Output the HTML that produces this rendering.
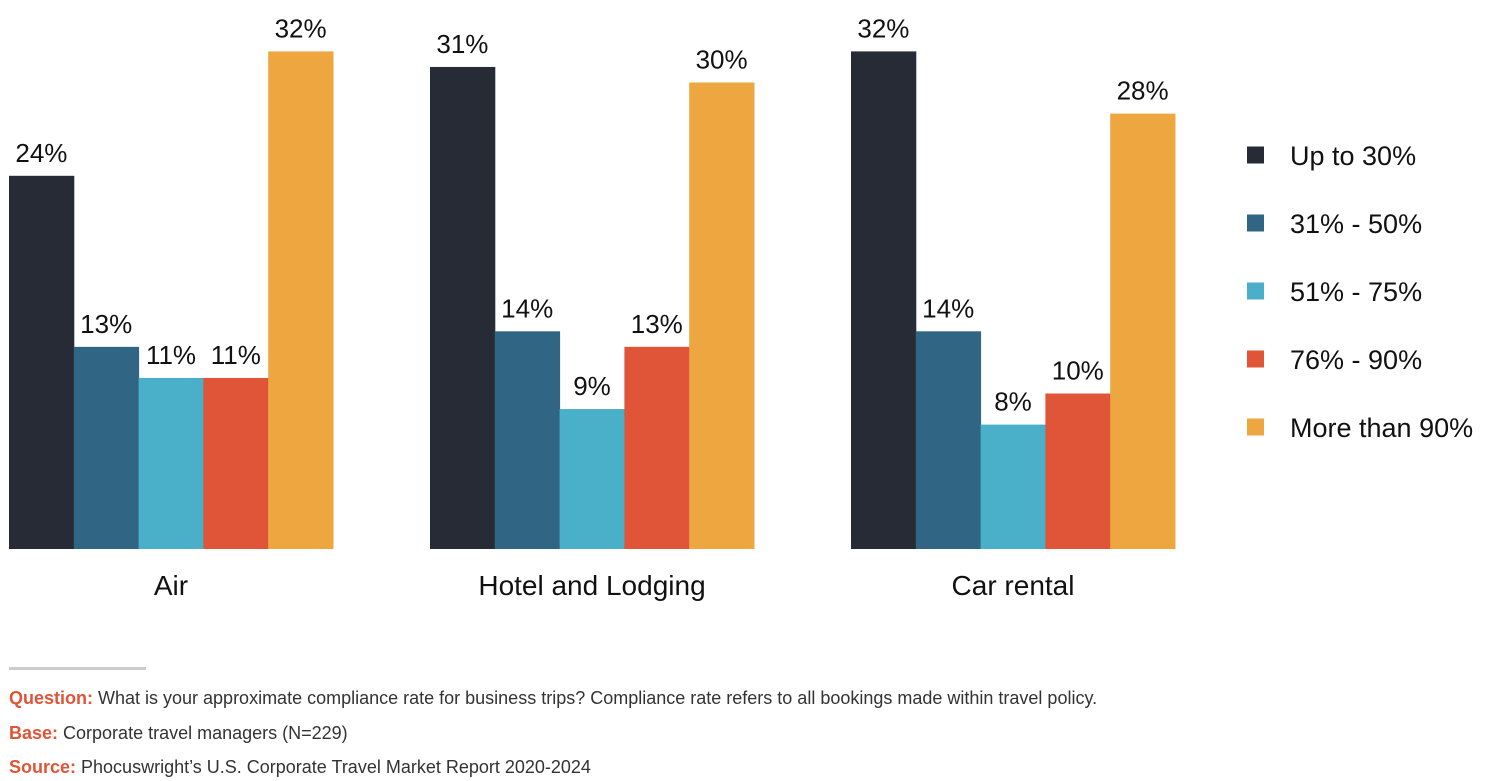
<!DOCTYPE html>
<html><head><meta charset="utf-8"><style>
body{margin:0;width:1500px;height:781px;background:#fff;font-family:"Liberation Sans",sans-serif;overflow:hidden;position:relative}
.foot{position:absolute;left:9px;font-size:18px;color:#333}
.foot b{color:#e05438}
</style></head><body>
<svg id="chart" width="1500" height="650" style="position:absolute;left:0;top:0"></svg>
<div style="position:absolute;left:9px;top:667px;width:137px;height:3px;background:#ccc"></div>
<div class="foot" style="top:688px"><b>Question:</b> What is your approximate compliance rate for business trips? Compliance rate refers to all bookings made within travel policy.</div>
<div class="foot" style="top:723px"><b>Base:</b> Corporate travel managers (N=229)</div>
<div class="foot" style="top:757px"><b>Source:</b> Phocuswright’s U.S. Corporate Travel Market Report 2020-2024</div>
<script>
const categories=["Air","Hotel and Lodging","Car rental"];
const seriesNames=["Up to 30%","31% - 50%","51% - 75%","76% - 90%","More than 90%"];
const upTo30=[24,31,32];
const s31to50=[13,14,14];
const s51to75=[11,9,8];
const s76to90=[11,13,10];
const over90=[32,30,28];
const series=[upTo30,s31to50,s51to75,s76to90,over90];
const colors=["#272b36","#306684","#4aafc9","#e05438","#eea740"];
const svg=document.getElementById('chart');
const NS="http://www.w3.org/2000/svg";
const baseY=549,pxPer=15.55,groupX0=9,groupStep=421,barW=64.8;
function y(v){return baseY-v*pxPer;}
function x(ci,si){return groupX0+ci*groupStep+si*barW;}
function mk(tag,attrs,txt){const e=document.createElementNS(NS,tag);for(const k in attrs)e.setAttribute(k,attrs[k]);if(txt!==undefined)e.textContent=txt;svg.appendChild(e);return e;}
categories.forEach((c,ci)=>{
  series.forEach((s,si)=>{
    const r=mk('rect',{x:x(ci,si),y:y(s[ci]),width:barW+0.5,height:baseY-y(s[ci]),fill:colors[si]});
    
    
    const t=mk('text',{x:x(ci,si)+barW/2,y:y(s[ci])-14,'text-anchor':'middle','font-size':26,fill:'#111'},s[ci]+'%');
    
    
  });
  const l=mk('text',{x:x(ci,0)+barW*2.5,y:595,'text-anchor':'middle','font-size':28,fill:'#111'},c);
  
  
});
seriesNames.forEach((n,i)=>{
  const cy=155+i*68;
  const r=mk('rect',{x:1247,y:cy-8.5,width:17,height:17,fill:colors[i]});
  
  
  const t=mk('text',{x:1290,y:cy+10,'font-size':27,fill:'#111'},n);
  
  
});
</script>
</body></html>
